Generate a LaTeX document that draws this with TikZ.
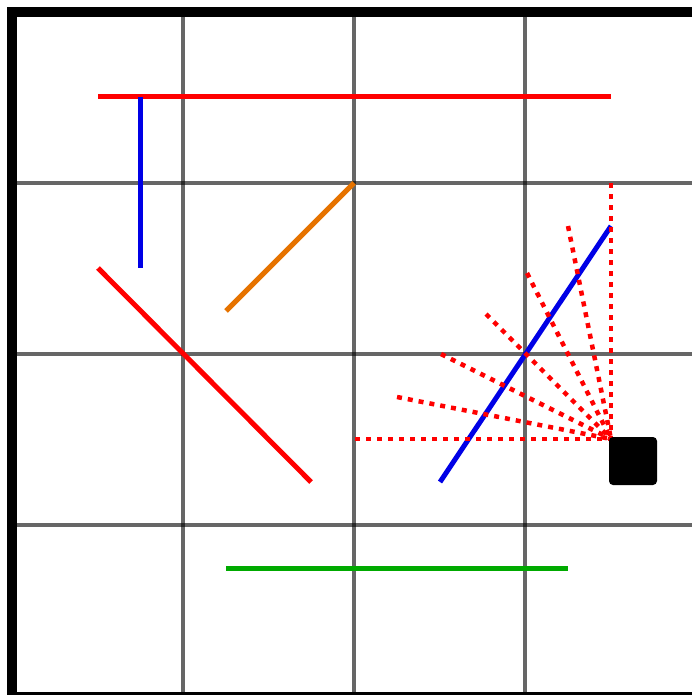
\documentclass[tikz,border=0pt]{standalone}
\usepackage{xcolor}
\usepackage{tikz}
\usetikzlibrary{calc}
\definecolor{wallr}{HTML}{FF0000}
\definecolor{wallb}{HTML}{0000E6}
\definecolor{wallo}{HTML}{E67300}
\definecolor{wallg}{HTML}{00AA00}
\tikzset{
  wall/.style={line width=5pt},
  gridln/.style={line width=4pt,black,opacity=0.6},
  ray/.style={line width=4.5pt,wallr,dash pattern=on 5pt off 6pt},
  bot/.style={fill=black,rounded corners=4pt}
}
\begin{document}
\begin{tikzpicture}[x=1pt,y=-1pt]
\useasboundingbox (0,0) rectangle (692,695);
\begin{scope}
\clip (0,0) rectangle (692,695);
\draw[line width=10pt] (12,12) rectangle (697,697);
\end{scope}
% grid
\foreach \g in {183,354,525}{
  \draw[gridln] (\g,17)--(\g,692);
  \draw[gridln] (17,\g)--(692,\g);
}
% walls
\draw[wall,wallr] (98,97)--(611,97);
\draw[wall,wallb] (140,97)--(140,268);
\draw[wall,wallo] (226,311)--(354,183);
\draw[wall,wallr] (98,268)--(311,482);
\draw[wall,wallg] (226,568)--(568,568);
\draw[wall,wallb] (440,482)--(611,226);
% rays
\coordinate (src) at (611,439);
\foreach \ex/\ey in {355/439,397/397,441/354,486/314,527/273,568/226,611/183}
  \draw[ray] (\ex,\ey)--(src);
% robot
\fill[bot] (609,437) rectangle (657,485);
\end{tikzpicture}
\end{document}
